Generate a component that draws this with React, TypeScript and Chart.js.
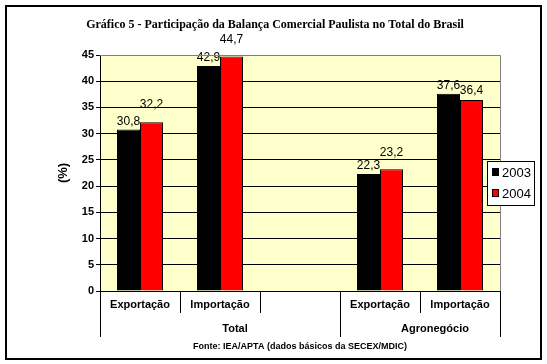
import React, { useEffect, useRef } from "react";
import { Chart, registerables } from "chart.js";

Chart.register(...registerables);

const categories = ["Exportação", "Importação", "", "Exportação", "Importação"];
const groups = ["Total", "Agronegócio"];
const groupSpans = [[0, 2], [3, 4]];
const series2003 = [30.8, 42.9, null, 22.3, 37.6];
const series2004 = [32.2, 44.7, null, 23.2, 36.4];
const seriesNames = ["2003", "2004"];
const yTicks = [0, 5, 10, 15, 20, 25, 30, 35, 40, 45];
const titleText = "Gráfico 5 - Participação da Balança Comercial Paulista no Total do Brasil";
const sourceText = "Fonte: IEA/APTA (dados básicos da SECEX/MDIC)";
const yTitle = "(%)";

const SANS = "'Liberation Sans', Arial, sans-serif";
const SERIF = "'Liberation Serif', 'Times New Roman', serif";

const decorPlugin = {
  id: "decor",
  beforeDraw(chart: any) {
    const { ctx, chartArea: a } = chart;
    ctx.save();
    ctx.fillStyle = "#ffffff";
    ctx.fillRect(0, 0, chart.width, chart.height);
    ctx.fillStyle = "#FFFFCC";
    ctx.fillRect(a.left, a.top, a.right - a.left, a.bottom - a.top);
    ctx.restore();
  },
  afterDatasetsDraw(chart: any) {
    const { ctx } = chart;
    ctx.save();
    ctx.font = `12px ${SANS}`;
    ctx.fillStyle = "#000";
    ctx.textAlign = "center";
    ctx.textBaseline = "bottom";
    chart.data.datasets.forEach((ds: any, di: number) => {
      const meta = chart.getDatasetMeta(di);
      meta.data.forEach((el: any, i: number) => {
        const v = ds.data[i];
        if (v == null) return;
        let gap = 2;
        if (di === 1) {
          const other = chart.data.datasets[0].data[i];
          gap = other != null && v > other ? 11 : 3;
        }
        ctx.fillText(String(v).replace(".", ","), el.x, el.y - gap);
      });
    });
    ctx.restore();
  },
  afterDraw(chart: any) {
    const { ctx, chartArea: a } = chart;
    const xs = chart.scales.x;
    ctx.save();
    // plot border (top/right gray)
    ctx.strokeStyle = "#808080";
    ctx.lineWidth = 1;
    ctx.beginPath();
    ctx.moveTo(a.left, a.top + 0.5);
    ctx.lineTo(a.right + 0.5, a.top + 0.5);
    ctx.lineTo(a.right + 0.5, a.bottom);
    ctx.stroke();

    // category labels
    ctx.fillStyle = "#000";
    ctx.font = `bold 11px ${SANS}`;
    ctx.textAlign = "center";
    ctx.textBaseline = "middle";
    categories.forEach((c, i) => {
      if (!c) return;
      ctx.fillText(c, xs.getPixelForValue(i), a.bottom + 14);
    });

    // group dividers and labels
    const half = (xs.getPixelForValue(1) - xs.getPixelForValue(0)) / 2;
    ctx.strokeStyle = "#000";
    ctx.beginPath();
    const edges: number[] = [];
    groupSpans.forEach(([s, e]) => {
      edges.push(xs.getPixelForValue(s) - half, xs.getPixelForValue(e) + half);
    });
    Array.from(new Set(edges.map((e) => Math.round(e)))).forEach((x) => {
      ctx.moveTo(x + 0.5, a.bottom);
      ctx.lineTo(x + 0.5, a.bottom + 46);
    });
    ctx.stroke();
    ctx.font = `bold 11px ${SANS}`;
    groupSpans.forEach(([s, e], gi) => {
      const cx = (xs.getPixelForValue(s) - half + xs.getPixelForValue(e) + half) / 2;
      ctx.fillText(groups[gi], cx + 15, a.bottom + 38);
    });

    // y title
    ctx.save();
    ctx.translate(63, (a.top + a.bottom) / 2);
    ctx.rotate(-Math.PI / 2);
    ctx.font = `bold 13px ${SANS}`;
    ctx.fillText(yTitle, 0, 0);
    ctx.restore();

    // title
    ctx.font = `bold 12px ${SERIF}`;
    ctx.textBaseline = "alphabetic";
    ctx.fillText(titleText, 275, 28);

    // source
    ctx.font = `bold 9px ${SANS}`;
    ctx.textBaseline = "middle";
    ctx.fillText(sourceText, 300, 347);

    // legend
    const lx = 487, ly = 161, lw = 47, lh = 44;
    ctx.fillStyle = "#fff";
    ctx.fillRect(lx, ly, lw, lh);
    ctx.strokeStyle = "#000";
    ctx.lineWidth = 1;
    ctx.strokeRect(lx + 0.5, ly + 0.5, lw, lh);
    const colors = ["#000000", "#FF0000"];
    seriesNames.forEach((n, i) => {
      const y = ly + 11 + i * 21;
      ctx.fillStyle = colors[i];
      ctx.fillRect(lx + 5, y - 4, 7, 8);
      ctx.strokeStyle = "#000";
      ctx.strokeRect(lx + 5.5, y - 3.5, 6, 7);
      ctx.fillStyle = "#000";
      ctx.font = `13px ${SANS}`;
      ctx.textAlign = "left";
      ctx.textBaseline = "middle";
      ctx.fillText(n, lx + 15, y + 1);
    });

    // outer border
    ctx.strokeStyle = "#000";
    ctx.lineWidth = 2;
    ctx.strokeRect(6, 6, 535, 353);
    ctx.restore();
  },
};

export default function App() {
  const ref = useRef<HTMLCanvasElement | null>(null);
  useEffect(() => {
    if (!ref.current) return;
    const chart = new Chart(ref.current, {
      type: "bar",
      data: {
        labels: categories,
        datasets: [
          {
            label: seriesNames[0],
            data: series2003 as any,
            backgroundColor: "#000000",
            borderColor: "#000000",
            borderWidth: 1,
            categoryPercentage: 0.575,
            barPercentage: 1,
          },
          {
            label: seriesNames[1],
            data: series2004 as any,
            backgroundColor: "#FF0000",
            borderColor: "#000000",
            borderWidth: 1,
            categoryPercentage: 0.575,
            barPercentage: 1,
          },
        ],
      },
      options: {
        animation: false,
        responsive: true,
        maintainAspectRatio: false,
        layout: { padding: { top: 55, left: 60, right: 47, bottom: 0 } },
        plugins: {
          legend: { display: false },
          title: { display: false },
          tooltip: { enabled: false },
        },
        scales: {
          x: {
            type: "category",
            offset: true,
            grid: {
              offset: true,
              drawOnChartArea: false,
              drawTicks: true,
              tickLength: 22,
              color: "#000",
            },
            border: { color: "#000", width: 1 },
            ticks: { display: false },
            afterFit: (s: any) => {
              s.height = 73;
            },
          },
          y: {
            min: 0,
            max: 45,
            afterBuildTicks: (s: any) => {
              s.ticks = yTicks.map((v) => ({ value: v }));
            },
            grid: { color: "#000", tickLength: 4 },
            border: { color: "#000", width: 1 },
            ticks: {
              stepSize: 5,
              padding: 2,
              color: "#000",
              font: { family: SANS, size: 11, weight: "bold" },
            },
            afterFit: (s: any) => {
              s.width = 40;
            },
          },
        },
      },
      plugins: [decorPlugin],
    });
    return () => chart.destroy();
  }, []);
  return (
    <div style={{ position: "absolute", left: 0, top: 0, width: 547, height: 364 }}>
      <canvas ref={ref} />
    </div>
  );
}
